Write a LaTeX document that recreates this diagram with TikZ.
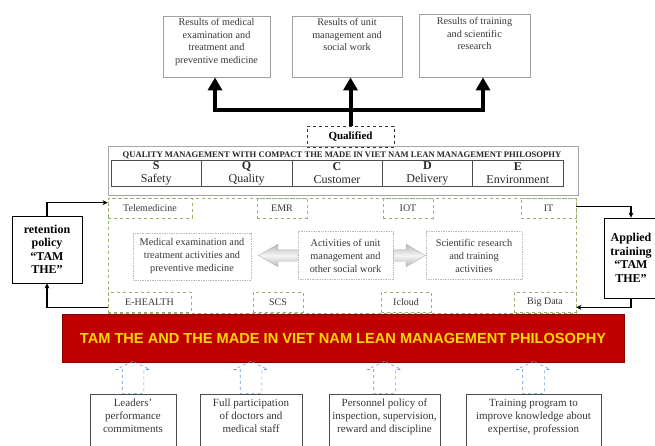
\documentclass[tikz,border=0pt]{standalone}
\usepackage{fontspec}
\setmainfont{Liberation Serif}
\newfontfamily\barfont{Liberation Sans}
\usepackage{xcolor}
\usetikzlibrary{arrows.meta, positioning, shapes.arrows, calc}

\definecolor{tagcol}{RGB}{150,180,110}
\definecolor{barred}{RGB}{192,0,0}
\definecolor{baryel}{RGB}{255,215,0}
\definecolor{arrblue}{RGB}{110,155,210}
\definecolor{txtgray}{RGB}{55,55,55}

\tikzset{
  resbox/.style={draw=gray!75, line width=0.8pt, minimum height=61pt, inner sep=0pt},
  restext/.style={font=\fontsize{10.2}{12.5}\selectfont, text=txtgray, align=center, inner sep=0pt},
  cell/.style={draw=gray!60!black, line width=0.6pt, minimum width=90.4pt, minimum height=26pt,
    inner sep=0pt, align=center, font=\fontsize{12}{13}\selectfont, text=black!85},
  tag/.style={draw=tagcol, dashed, line width=0.7pt, minimum height=20pt, inner sep=0pt,
    font=\fontsize{10}{12}\selectfont, text=txtgray},
  actbox/.style={draw=gray!55, densely dotted, line width=0.7pt, minimum height=48pt, inner sep=0pt,
    align=center, font=\fontsize{10.3}{13}\selectfont, text=txtgray},
  sidebox/.style={draw=black, line width=0.8pt, align=center, inner sep=0pt,
    font=\fontsize{12}{13.5}\selectfont\bfseries},
  sidearrow/.style={line width=1.3pt, -{Stealth[length=5pt,width=5pt]}},
  fatarrow/.style={line width=4pt, -{Triangle[length=13pt,width=14pt]}},
  blockarrow/.style={single arrow, draw=gray!60, line width=0.4pt, minimum height=39pt,
    inner sep=5.5pt, single arrow tip angle=60, single arrow head extend=5.5pt,
    top color=gray!55, bottom color=gray!55, middle color=gray!8},
  upblue/.style={single arrow, shape border rotate=90, draw=arrblue, dashed, line width=0.6pt,
    minimum height=32pt, inner sep=10.5pt, single arrow tip angle=128, single arrow head extend=6pt},
  basebox/.style={draw=gray!60!black, line width=0.8pt, minimum height=70pt, inner sep=0pt},
  basetext/.style={font=\fontsize{11}{13}\selectfont, text=txtgray, align=center, inner sep=0pt}
}

\begin{document}
\begin{tikzpicture}[x=1pt, y=-1pt]
\useasboundingbox (0,0) rectangle (655,446);

% results on top
\node[resbox, minimum width=107pt] (res1) at (216.5,46.5) {};
\node[resbox, minimum width=110pt] (res2) at (347,46.5) {};
\node[resbox, minimum width=111pt, minimum height=63pt] (res3) at (474.5,45.5) {};
\node[restext, below=3pt of res1.north] {Results of medical\\examination and\\treatment and\\preventive medicine};
\node[restext, below=3pt of res2.north] {Results of unit\\management and\\social work};
\node[restext, below=4pt of res3.north] {Results of training\\and scientific\\research};

\node[draw=gray!40!black, dashed, line width=0.9pt, minimum width=87pt, minimum height=21pt,
  font=\fontsize{11}{13}\selectfont\bfseries] (qual) at (350.5,136.5) {Qualified};

\coordinate (bar) at (0,110);
\draw[line width=4pt, {Triangle[length=13pt,width=14pt]}-{Triangle[length=13pt,width=14pt]}]
  ([xshift=-1.5pt]res1.south) -- ([xshift=-1.5pt]res1.south |- bar)
  -- ([xshift=8.5pt]res3.south |- bar) -- ([xshift=8.5pt]res3.south);
\draw[fatarrow] (qual.north) -- (qual.north |- res2.south);

% quality management
\node[draw=gray!70, line width=0.8pt, minimum width=470pt, minimum height=49pt] (qm) at (343,170.5) {};
\node[font=\fontsize{8.6}{10}\selectfont\bfseries, text=black!85, inner sep=0pt] (qmtitle) at (342,155)
  {QUALITY MANAGEMENT WITH COMPACT THE MADE IN VIET NAM LEAN MANAGEMENT PHILOSOPHY};
\foreach \l/\w [count=\i from 0] in {S/Safety,Q/Quality,C/Customer,D/Delivery,E/Environment}{
  \node[cell] (c\i) at (156.2+\i*90.4,173) {\textbf{\l}\\\w};
}

% activities
\node[draw=tagcol, dashed, line width=0.8pt, minimum width=468pt, minimum height=115pt] (green) at (342,255.5) {};
\foreach \nm/\x/\y/\w/\t in {tele/150/208/84/Telemedicine, emr/282/208/50/EMR, iot/408/208/50/IOT,
  it/548.5/208/55/IT, ehealth/149.5/302/83/E-HEALTH, scs/278/302/50/SCS,
  icloud/406/302/50/Icloud, bigdata/545/302/62/Big Data}{
  \node[tag, minimum width=\w pt] (\nm) at (\x,\y) {\t};
}
\node[actbox, minimum width=118pt, minimum height=47pt] (med) at (192,256.5)
  {Medical examination and\\treatment activities and\\preventive medicine};
\node[actbox, minimum width=95pt] (act) at (345.5,255.5) {Activities of unit\\management and\\other social work};
\node[actbox, minimum width=96pt] (sci) at (474,255.5) {Scientific research\\and training\\activities};
\node[blockarrow, shape border rotate=180, anchor=tail] (larr) at (act.west) {};
\node[blockarrow, anchor=tail, minimum height=32pt] (rarr) at (act.east) {};

% side policies
\node[sidebox, minimum width=70pt, minimum height=67pt] (ret) at (47,249.5) {retention\\policy\\“TAM\\THE”};
\node[sidebox, minimum width=54pt, minimum height=80pt] (app) at (631,258) {Applied\\training\\“TAM\\THE”};
\draw[sidearrow] (ret.north) |- ([yshift=-5pt]green.north west);
\draw[sidearrow] ([yshift=6pt]green.south west) -| (ret.south);
\draw[sidearrow] ([yshift=-9pt]green.north east) -| (app.north);
\draw[sidearrow] (app.south) |- ([yshift=6pt]green.south east);

% philosophy bar
\node[fill=barred, draw=barred!70!black, minimum width=562pt, minimum height=48pt,
  font=\barfont\bfseries\fontsize{14.6}{16}\selectfont, text=baryel] (redbar) at (343,338)
  {TAM THE AND THE MADE IN VIET NAM LEAN MANAGEMENT PHILOSOPHY};

\foreach \nm/\x/\w/\t in {b1/133/86/{Leaders'\\performance\\commitments},
  b2/251/102/{Full participation\\of doctors and\\medical staff},
  b3/384.5/111/{Personnel policy of\\inspection, supervision,\\reward and discipline},
  b4/533.5/135/{Training program to\\improve knowledge about\\expertise, profession}}{
  \node[basebox, minimum width=\w pt] (\nm) at (\x,429) {};
  \node[basetext, below=5pt of \nm.north] {\t};
  \node[upblue, anchor=tail] at (\nm.north) {};
}
\end{tikzpicture}
\end{document}
